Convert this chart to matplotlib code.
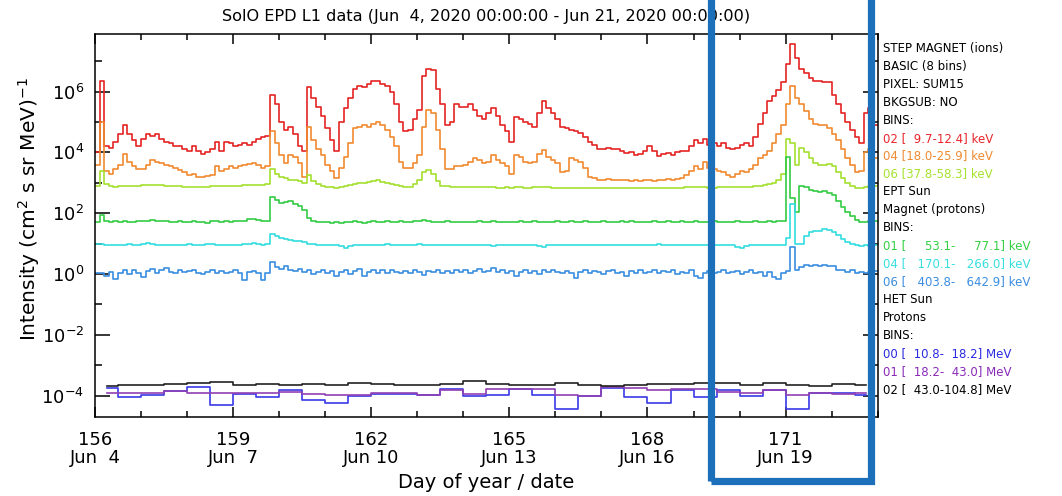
import numpy as np
import matplotlib
matplotlib.use('Agg')
import matplotlib.pyplot as plt
from matplotlib.patches import Rectangle
from matplotlib.ticker import FixedLocator, NullFormatter

plt.rcParams['font.family'] = ['DejaVu Sans']
plt.rcParams['mathtext.fontset'] = 'dejavusans'

# ---------------- data (log10 intensity) ----------------
t_start = 156.0      # day of year of the first sample
t_step = 0.1         # sample spacing in days (one row = 1 day)
t_end = 173.0

step_02 = [4.00, 6.35, 4.20, 4.15, 4.35, 4.60, 4.90, 4.60, 4.40, 4.20,
           4.45, 4.60, 4.55, 4.60, 4.45, 4.35, 4.30, 4.20, 4.20, 4.10,
           4.05, 4.20, 4.05, 3.95, 4.00, 4.10, 4.35, 4.05, 4.35, 4.30,
           4.20, 4.25, 4.30, 4.25, 4.35, 4.45, 4.50, 4.55, 5.90, 5.60,
           5.00, 4.75, 4.85, 4.60, 4.20, 4.05, 6.15, 5.80, 5.50, 5.20,
           4.80, 4.40, 4.05, 5.00, 5.45, 5.80, 6.10, 6.20, 6.15, 6.25,
           6.35, 6.35, 6.25, 6.20, 6.00, 5.60, 5.00, 4.70, 4.75, 5.10,
           5.40, 6.50, 6.75, 6.70, 6.10, 5.60, 4.90, 5.00, 5.60, 5.50,
           5.50, 5.60, 5.40, 5.20, 5.10, 5.30, 5.45, 5.20, 4.90, 4.70,
           4.35, 5.15, 5.10, 5.00, 4.95, 4.85, 5.30, 5.70, 5.45, 5.30,
           5.10, 4.85, 4.80, 4.75, 4.70, 4.65, 4.50, 4.35, 4.25, 4.10,
           4.10, 4.15, 4.12, 4.10, 4.05, 3.98, 4.00, 3.92, 3.95, 4.05,
           4.20, 4.05, 3.88, 3.95, 3.97, 3.92, 4.00, 4.05, 4.05, 4.20,
           4.40, 4.30, 4.45, 4.25, 4.30, 4.20, 4.30, 4.15, 4.10, 4.15,
           4.25, 4.30, 4.20, 4.50, 4.95, 5.30, 5.70, 5.85, 6.05, 6.30,
           6.90, 7.55, 7.10, 6.75, 6.60, 6.45, 6.35, 6.35, 6.30, 6.30,
           5.90, 5.60, 5.30, 5.00, 4.75, 4.50, 4.30, 5.30, 5.45, 4.90]

step_04 = [3.60, 5.00, 3.40, 3.30, 3.45, 3.60, 3.95, 3.70, 3.55, 3.45,
           3.45, 3.60, 3.75, 3.70, 3.65, 3.60, 3.55, 3.50, 3.43, 3.35,
           3.25, 3.30, 3.20, 3.20, 3.22, 3.25, 3.55, 3.40, 3.45, 3.55,
           3.50, 3.55, 3.60, 3.62, 3.65, 3.60, 3.50, 3.55, 4.70, 4.30,
           3.90, 3.65, 3.90, 3.85, 3.65, 3.20, 4.85, 4.40, 4.10, 3.90,
           3.60, 3.40, 3.15, 3.50, 3.85, 4.30, 4.80, 4.85, 4.90, 4.85,
           4.95, 5.00, 4.90, 4.75, 4.50, 4.20, 3.70, 3.50, 3.50, 3.65,
           3.90, 4.85, 5.40, 5.30, 4.75, 4.10, 3.45, 3.45, 3.55, 3.55,
           3.60, 3.70, 3.80, 3.75, 3.65, 3.70, 3.90, 3.75, 3.65, 3.55,
           3.30, 3.90, 3.85, 3.70, 3.65, 3.70, 3.95, 4.08, 3.85, 3.75,
           3.65, 3.35, 3.40, 3.80, 3.75, 3.70, 3.50, 3.20, 3.15, 3.10,
           3.10, 3.12, 3.10, 3.08, 3.10, 3.08, 3.05, 3.10, 3.05, 3.08,
           3.10, 3.05, 3.08, 3.10, 3.12, 3.10, 3.12, 3.15, 3.25, 3.40,
           3.55, 3.45, 3.70, 3.50, 3.45, 3.40, 3.35, 3.25, 3.20, 3.30,
           3.40, 3.35, 3.45, 3.60, 3.80, 3.90, 4.05, 4.30, 4.60, 4.90,
           5.60, 6.20, 5.80, 5.60, 5.35, 5.10, 4.95, 4.90, 4.90, 4.80,
           4.60, 4.40, 4.10, 3.80, 3.60, 3.35, 3.40, 4.00, 4.10, 3.80]

step_06 = [2.90, 3.40, 2.95, 2.88, 2.87, 2.88, 2.90, 2.89, 2.88, 2.90,
           2.92, 2.93, 2.94, 2.93, 2.92, 2.91, 2.90, 2.89, 2.88, 2.87,
           2.87, 2.86, 2.86, 2.87, 2.87, 2.88, 2.89, 2.88, 2.90, 2.90,
           2.90, 2.91, 2.92, 2.92, 2.93, 2.94, 2.92, 2.95, 3.45, 3.30,
           3.20, 3.15, 3.10, 3.10, 3.05, 3.00, 3.25, 3.05, 2.95, 2.90,
           2.87, 2.85, 2.82, 2.86, 2.90, 2.94, 2.96, 2.98, 3.00, 3.03,
           3.06, 3.08, 3.04, 3.00, 2.95, 2.92, 2.88, 2.86, 2.86, 2.95,
           3.10, 3.35, 3.42, 3.30, 3.05, 2.90, 2.88, 2.87, 2.87, 2.86,
           2.87, 2.86, 2.86, 2.85, 2.85, 2.86, 2.85, 2.84, 2.84, 2.85,
           2.83, 2.86, 2.85, 2.84, 2.84, 2.85, 2.87, 2.86, 2.85, 2.84,
           2.84, 2.83, 2.84, 2.83, 2.83, 2.84, 2.83, 2.82, 2.83, 2.82,
           2.82, 2.83, 2.83, 2.82, 2.82, 2.83, 2.83, 2.82, 2.83, 2.84,
           2.83, 2.83, 2.84, 2.83, 2.83, 2.84, 2.84, 2.84, 2.85, 2.85,
           2.86, 2.86, 2.85, 2.84, 2.84, 2.85, 2.86, 2.85, 2.85, 2.86,
           2.86, 2.87, 2.87, 2.88, 2.89, 2.92, 2.95, 3.00, 3.10, 3.30,
           4.45, 4.30, 3.60, 4.15, 4.00, 3.80, 3.65, 3.60, 3.60, 3.62,
           3.55, 3.35, 3.15, 3.00, 2.90, 2.83, 2.82, 2.85, 2.88, 2.88]

ept_01 = [1.72, 1.95, 1.74, 1.70, 1.73, 1.71, 1.75, 1.72, 1.70, 1.74,
          1.76, 1.74, 1.77, 1.75, 1.73, 1.76, 1.72, 1.70, 1.73, 1.71,
          1.72, 1.74, 1.70, 1.72, 1.69, 1.73, 1.75, 1.71, 1.73, 1.72,
          1.75, 1.73, 1.76, 1.80, 1.82, 1.78, 1.75, 1.74, 2.55, 2.45,
          2.35, 2.38, 2.40, 2.32, 2.25, 2.10, 1.85, 1.75, 1.72, 1.70,
          1.71, 1.69, 1.70, 1.68, 1.72, 1.70, 1.73, 1.71, 1.69, 1.72,
          1.73, 1.70, 1.72, 1.74, 1.70, 1.72, 1.73, 1.71, 1.70, 1.74,
          1.75, 1.78, 1.74, 1.72, 1.70, 1.71, 1.73, 1.72, 1.70, 1.71,
          1.72, 1.70, 1.71, 1.74, 1.72, 1.70, 1.73, 1.71, 1.72, 1.70,
          1.72, 1.71, 1.73, 1.70, 1.72, 1.74, 1.71, 1.72, 1.70, 1.72,
          1.74, 1.72, 1.70, 1.73, 1.72, 1.71, 1.74, 1.72, 1.70, 1.71,
          1.73, 1.72, 1.70, 1.71, 1.73, 1.72, 1.74, 1.71, 1.72, 1.70,
          1.72, 1.74, 1.72, 1.70, 1.73, 1.71, 1.72, 1.74, 1.72, 1.71,
          1.73, 1.72, 1.70, 1.72, 1.74, 1.71, 1.72, 1.70, 1.72, 1.73,
          1.71, 1.72, 1.70, 1.73, 1.72, 1.71, 1.73, 1.72, 1.74, 1.76,
          3.85, 2.50, 2.05, 2.90, 2.85, 2.75, 2.72, 2.70, 2.72, 2.68,
          2.60, 2.40, 2.20, 2.05, 1.90, 1.78, 1.72, 1.71, 1.74, 1.75]

ept_04 = [0.98, 1.00, 0.96, 0.94, 0.97, 0.95, 0.96, 0.98, 0.94, 0.96,
          0.99, 1.02, 0.98, 0.96, 0.97, 0.95, 0.96, 0.94, 0.97, 0.95,
          0.98, 0.96, 0.95, 0.97, 1.00, 0.98, 0.96, 0.95, 0.97, 0.96,
          0.95, 0.97, 0.98, 1.00, 1.02, 0.99, 0.97, 0.98, 1.32, 1.25,
          1.18, 1.15, 1.12, 1.10, 1.08, 1.04, 1.00, 0.98, 0.97, 0.95,
          0.96, 0.94, 0.96, 0.92, 0.85, 0.93, 0.95, 0.97, 0.94, 0.96,
          0.97, 0.95, 0.96, 0.98, 0.95, 0.97, 0.94, 0.96, 0.95, 0.97,
          0.98, 0.96, 0.97, 0.95, 0.96, 0.94, 0.97, 0.95, 0.96, 0.94,
          0.96, 0.97, 0.95, 0.94, 0.96, 0.95, 0.93, 0.96, 0.95, 0.97,
          0.96, 0.94, 0.96, 0.95, 0.97, 0.95, 0.92, 0.88, 0.95, 0.96,
          0.95, 0.97, 0.94, 0.96, 0.95, 0.97, 0.95, 0.94, 0.96, 0.95,
          0.97, 0.96, 0.94, 0.96, 0.97, 0.95, 0.96, 0.94, 0.96, 0.97,
          0.95, 0.96, 0.98, 0.95, 0.96, 0.94, 0.97, 0.95, 0.96, 0.95,
          0.97, 0.96, 0.94, 0.96, 0.95, 0.97, 0.95, 0.94, 0.95, 0.90,
          0.85, 0.92, 0.95, 0.96, 0.94, 0.96, 0.95, 0.94, 0.96, 0.95,
          1.20, 2.30, 1.00, 0.98, 1.25, 1.38, 1.40, 1.42, 1.47, 1.44,
          1.38, 1.28, 1.15, 1.05, 0.98, 0.95, 0.92, 0.94, 0.93, 0.95]

ept_06 = [0.05, 0.02, -0.05, 0.08, -0.15, 0.05, 0.12, 0.00, 0.15, 0.05,
          -0.10, 0.10, 0.18, 0.05, 0.12, 0.20, 0.08, 0.02, 0.12, 0.06,
          0.10, 0.15, 0.05, 0.00, 0.08, 0.12, 0.04, 0.10, 0.02, 0.08,
          0.12, 0.05, -0.20, 0.06, 0.10, 0.04, -0.18, 0.05, 0.40, 0.22,
          0.18, 0.25, 0.15, 0.10, 0.18, 0.08, 0.12, 0.00, 0.06, 0.12,
          0.02, 0.10, -0.05, 0.08, 0.14, 0.00, 0.10, 0.18, -0.05, 0.08,
          0.14, 0.02, 0.12, 0.05, 0.15, 0.08, 0.02, 0.10, 0.04, 0.12,
          0.06, -0.02, 0.10, 0.08, 0.15, 0.02, 0.10, 0.05, 0.12, 0.08,
          0.15, 0.05, 0.10, 0.18, 0.06, 0.10, 0.20, 0.08, 0.12, 0.02,
          0.10, -0.05, 0.08, 0.14, 0.05, 0.10, 0.00, 0.12, 0.06, 0.15,
          0.08, 0.02, 0.10, 0.05, -0.12, 0.08, 0.12, 0.04, 0.10, 0.06,
          0.00, 0.10, 0.14, 0.05, 0.08, -0.05, 0.10, 0.05, 0.12, 0.04,
          0.08, 0.14, 0.02, 0.10, 0.06, 0.12, 0.00, 0.08, 0.05, 0.12,
          -0.08, -0.12, 0.05, 0.10, 0.04, 0.08, 0.12, 0.02, 0.06, 0.10,
          0.00, 0.08, 0.12, 0.02, 0.06, -0.05, 0.08, -0.10, -0.15, 0.05,
          0.10, 0.90, 0.12, 0.22, 0.30, 0.28, 0.30, 0.25, 0.30, 0.27,
          0.25, 0.15, 0.12, 0.08, 0.12, 0.05, 0.08, 0.02, 0.06, 0.10]

# HET: 12-hour bins, first bin centre at day 156.25
het_start = 156.25
het_step = 0.5
het_00 = [-3.75, -4.04, -3.99, -3.86, -3.71, -4.32, -3.93, -4.04, -3.82, -4.15,
          -4.23, -4.01, -3.93, -3.93, -3.97, -3.77, -4.02, -3.99, -3.79, -3.99,
          -4.43, -4.01, -3.75, -4.04, -4.23, -3.82, -4.04, -3.82, -4.01, -3.82,
          -4.45, -3.90, -3.90, -3.99]
het_01 = [-3.90, -3.90, -3.90, -3.86, -3.90, -3.90, -3.90, -3.90, -3.88, -3.93,
          -3.99, -3.97, -3.90, -3.90, -3.97, -3.82, -3.93, -3.77, -3.79, -3.79,
          -3.97, -4.01, -3.71, -3.75, -3.82, -3.79, -3.79, -3.88, -3.90, -3.82,
          -3.97, -3.90, -3.93, -3.90]
het_02 = [-3.69, -3.64, -3.66, -3.60, -3.58, -3.55, -3.66, -3.60, -3.66, -3.60,
          -3.64, -3.58, -3.62, -3.66, -3.66, -3.60, -3.53, -3.60, -3.66, -3.66,
          -3.58, -3.66, -3.68, -3.64, -3.60, -3.60, -3.57, -3.57, -3.66, -3.58,
          -3.66, -3.68, -3.60, -3.66]

xtick_days = [156, 159, 162, 165, 168, 171]
xtick_labels = ['156\nJun  4', '159\nJun  7', '162\nJun 10',
                '165\nJun 13', '168\nJun 16', '171\nJun 19']
ytick_vals = [1e-4, 1e-2, 1e0, 1e2, 1e4, 1e6]
ytick_labels = ['10$^{-4}$', '10$^{-2}$', '10$^{0}$', '10$^{2}$', '10$^{4}$', '10$^{6}$']
yminor_vals = [1e-3, 1e-1, 1e1, 1e3, 1e5, 1e7]

legend_lines = [
    ('STEP MAGNET (ions)', 'black'),
    ('BASIC (8 bins)', 'black'),
    ('PIXEL: SUM15', 'black'),
    ('BKGSUB: NO', 'black'),
    ('BINS:', 'black'),
    ('02 [  9.7-12.4] keV', '#e8262c'),
    ('04 [18.0-25.9] keV', '#f08a30'),
    ('06 [37.8-58.3] keV', '#a6e22e'),
    ('EPT Sun', 'black'),
    ('Magnet (protons)', 'black'),
    ('BINS:', 'black'),
    ('01 [     53.1-     77.1] keV', '#33d043'),
    ('04 [   170.1-   266.0] keV', '#38dede'),
    ('06 [   403.8-   642.9] keV', '#3a8de0'),
    ('HET Sun', 'black'),
    ('Protons', 'black'),
    ('BINS:', 'black'),
    ('00 [  10.8-  18.2] MeV', '#2a2ae0'),
    ('01 [  18.2-  43.0] MeV', '#8a2ab8'),
    ('02 [  43.0-104.8] MeV', 'black'),
]

# ---------------- figure ----------------
W, H = 1062, 496
fig = plt.figure(figsize=(W / 100, H / 100), dpi=100)
ax = fig.add_axes([95 / W, 1 - 416.7 / H, (877.7 - 95) / W, (416.7 - 33.5) / H])

main_series = [
    (step_02, '#e42424'),
    (step_04, '#f08a30'),
    (step_06, '#a4e030'),
    (ept_01, '#33cc44'),
    (ept_04, '#33dde0'),
    (ept_06, '#3a8ee0'),
]
for vals, col in main_series:
    v = np.asarray(vals)
    x = t_start + t_step * np.arange(len(v))
    x = np.append(x, t_end)
    y = 10.0 ** np.append(v, v[-1])
    ax.plot(x, y, drawstyle='steps-post', color=col, lw=1.2)

het_series = [(het_00, '#3a3ae6'), (het_01, '#9040b4'), (het_02, '#222222')]
for vals, col in het_series:
    v = np.asarray(vals)
    x = het_start + het_step * np.arange(len(v))
    ax.step(x, 10.0 ** v, where='mid', color=col, lw=1.2)

ax.set_xlim(156, 173)
ax.set_yscale('log')
ax.set_ylim(10 ** -4.69, 10 ** 7.91)

ax.xaxis.set_major_locator(FixedLocator(xtick_days))
ax.set_xticklabels(xtick_labels)
ax.xaxis.set_minor_locator(FixedLocator(list(range(156, 174))))
ax.yaxis.set_major_locator(FixedLocator(ytick_vals))
ax.set_yticklabels(ytick_labels)
ax.yaxis.set_minor_locator(FixedLocator(yminor_vals))
ax.yaxis.set_minor_formatter(NullFormatter())

ax.tick_params(axis='x', which='major', direction='in', length=7, width=1.1,
               top=True, bottom=True, labelsize=13, pad=10)
ax.tick_params(axis='x', which='minor', direction='in', length=4, width=1.1,
               top=True, bottom=True)
ax.tick_params(axis='y', which='major', direction='in', length=11, width=1.1,
               left=True, right=True, labelsize=13, pad=8)
ax.tick_params(axis='y', which='minor', direction='in', length=5, width=1.1,
               left=True, right=True)
for lbl in ax.get_xticklabels():
    lbl.set_linespacing(1.0)
for sp in ax.spines.values():
    sp.set_linewidth(1.1)

fig.text(486 / W, 1 - 17 / H,
         'SolO EPD L1 data (Jun  4, 2020 00:00:00 - Jun 21, 2020 00:00:00)',
         ha='center', va='center', fontsize=11.6)
fig.text(486 / W, 1 - 482 / H, 'Day of year / date', ha='center', va='center', fontsize=14)
fig.text(29 / W, 1 - 209 / H, 'Intensity (cm$^{2}$ s sr MeV)$^{-1}$',
         ha='center', va='center', rotation=90, fontsize=14.5)

for i, (txt, col) in enumerate(legend_lines):
    fig.text(883 / W, 1 - (48.3 + 17.95 * i) / H, txt, color=col,
             ha='left', va='center', fontsize=8.5)

rect = Rectangle((711 / W, 1 - 481 / H), (870.5 - 711) / W, (481 + 30) / H,
                 transform=fig.transFigure, fill=False, edgecolor='#1c6fb9',
                 lw=5.2, clip_on=False, zorder=10)
fig.add_artist(rect)

fig.savefig('out.png', dpi=100)
